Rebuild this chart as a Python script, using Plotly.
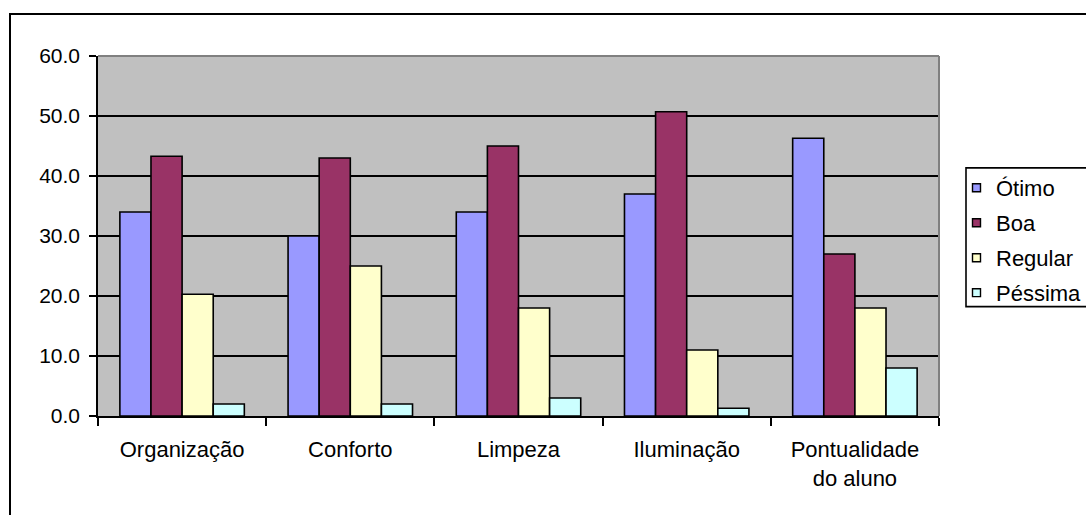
import plotly.graph_objects as go

categorias = ["Organização", "Conforto", "Limpeza", "Iluminação", "Pontualidade<br>do aluno"]
otimo = [34.0, 30.0, 34.0, 37.0, 46.3]
boa = [43.3, 43.0, 45.0, 50.7, 27.0]
regular = [20.3, 25.0, 18.0, 11.0, 18.0]
pessima = [2.0, 2.0, 3.0, 1.3, 8.0]

series = [
    ("Ótimo", otimo, "#9999FF"),
    ("Boa", boa, "#993366"),
    ("Regular", regular, "#FFFFCC"),
    ("Péssima", pessima, "#CCFFFF"),
]

FONT = "Liberation Sans, Arial, sans-serif"

fig = go.Figure()
for nome, valores, cor in series:
    fig.add_trace(go.Bar(
        name=nome, x=categorias, y=valores, showlegend=False,
        marker=dict(color=cor, line=dict(color="black", width=1.6)),
    ))

W, H = 1086, 515
L, R, T, B = 98, 939, 56, 416.5
pw, ph = R - L, B - T

def px_x(x):
    return (x - L) / pw

def px_y(y):
    return (B - y) / ph

shapes = [
    # grey frame on top and right of the plot area
    dict(type="line", xref="paper", yref="paper", x0=0, x1=1, y0=1, y1=1,
         line=dict(color="#808080", width=2), layer="above"),
    dict(type="line", xref="paper", yref="paper", x0=1, x1=1, y0=0, y1=1,
         line=dict(color="#808080", width=2), layer="above"),
    # outer chart border
    dict(type="rect", xref="paper", yref="paper",
         x0=px_x(10), x1=px_x(1100), y0=px_y(14), y1=px_y(530),
         line=dict(color="black", width=2), layer="below"),
    # legend box
    dict(type="rect", xref="paper", yref="paper",
         x0=px_x(966), x1=px_x(1100), y0=px_y(168), y1=px_y(307),
         line=dict(color="black", width=1.6), fillcolor="white", layer="above"),
]
annotations = []

# legend entries: small swatch plus label
item_y0, item_step = 188, 35
for i, (nome, _, cor) in enumerate(series):
    cy = item_y0 + i * item_step
    shapes.append(dict(
        type="rect", xref="paper", yref="paper",
        x0=px_x(972.5), x1=px_x(980.5), y0=px_y(cy + 4), y1=px_y(cy - 4),
        line=dict(color="black", width=1.4), fillcolor=cor, layer="above",
    ))
    annotations.append(dict(
        xref="paper", yref="paper", x=px_x(994), y=px_y(cy + 1),
        xanchor="left", yanchor="middle", showarrow=False,
        text=nome, font=dict(size=22, family=FONT, color="black"),
    ))

fig.update_layout(
    width=W, height=H,
    margin=dict(l=L, r=W - R, t=T, b=H - B, autoexpand=False),
    paper_bgcolor="white",
    plot_bgcolor="#C0C0C0",
    barmode="group",
    bargap=0.26,
    bargroupgap=0,
    showlegend=False,
    font=dict(family=FONT, size=21, color="black"),
    xaxis=dict(
        showline=True, linecolor="black", linewidth=1.6,
        ticks="outside", ticklen=8, tickcolor="black", tickwidth=1.6,
        tickson="boundaries", showgrid=False,
        tickfont=dict(size=22), ticklabelstandoff=13,
    ),
    yaxis=dict(
        range=[0, 60], dtick=10, tickformat=".1f",
        showline=True, linecolor="black", linewidth=1.6,
        ticks="outside", ticklen=7, tickcolor="black", tickwidth=1.6,
        showgrid=True, gridcolor="black", gridwidth=1.6,
        zeroline=False, tickfont=dict(size=21), ticklabelstandoff=5,
    ),
    shapes=shapes,
    annotations=annotations,
)

fig.write_html("out.html")
